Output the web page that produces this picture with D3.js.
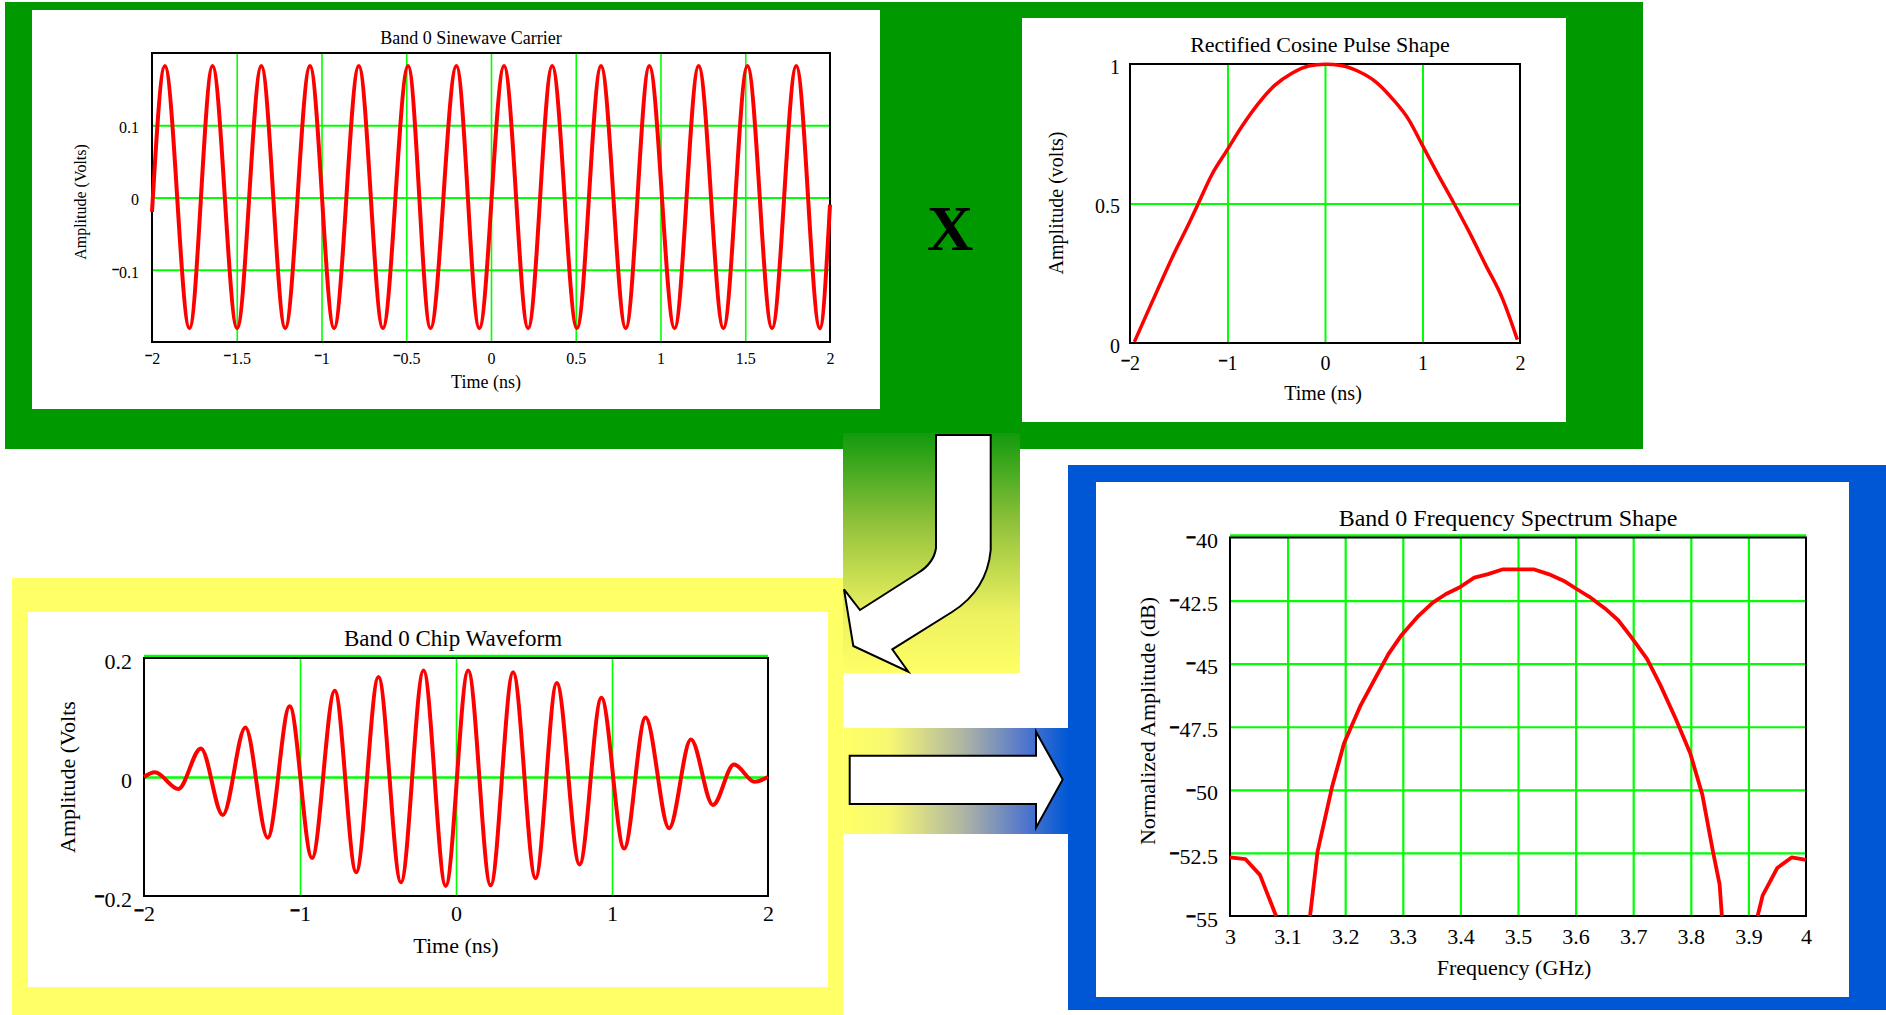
<!DOCTYPE html>
<html>
<head>
<meta charset="utf-8">
<script src="https://cdn.jsdelivr.net/npm/d3@7"></script>
<style>
  body { margin: 0; background: #fff; }
  svg text { font-family: "Liberation Serif", "Times New Roman", serif; fill: #000; }
</style>
</head>
<body>
<svg id="chart" width="1886" height="1015"></svg>
<script>
// ---- values ----
// Band 0 sinewave carrier: extrema (ns, volts)
const carrierTimes = [-2, -1.924, -1.779, -1.643, -1.498, -1.355, -1.214, -1.068, -0.926, -0.780, -0.638,
  -0.489, -0.357, -0.204, -0.069, 0.077, 0.219, 0.361, 0.507, 0.649, 0.795, 0.934, 1.083, 1.225, 1.371,
  1.513, 1.658, 1.801, 1.940, 2];
const carrierVolts = [-0.02, 0.182, -0.181, 0.182, -0.181, 0.182, -0.181, 0.182, -0.181, 0.182, -0.181,
  0.182, -0.181, 0.182, -0.181, 0.182, -0.181, 0.182, -0.181, 0.182, -0.181, 0.182, -0.181, 0.182, -0.181,
  0.182, -0.181, 0.182, -0.181, -0.01];

// Rectified cosine pulse
const pulseTimes = [-1.955, -1.846, -1.709, -1.538, -1.418, -1.298, -1.161, -1.014, -0.853, -0.682, -0.510,
  -0.339, -0.168, 0.003, 0.175, 0.346, 0.517, 0.688, 0.860, 0.997, 1.151, 1.322, 1.476, 1.647, 1.818, 1.973];
const pulseVolts = [0.004, 0.09, 0.197, 0.328, 0.412, 0.501, 0.603, 0.686, 0.776, 0.859, 0.925,
  0.967, 0.993, 0.999, 0.994, 0.973, 0.937, 0.877, 0.800, 0.710, 0.609, 0.501, 0.400, 0.280, 0.161, 0.012];

// Band 0 chip waveform (carrier x pulse), extrema
const chipTimes = [-2, -1.93, -1.78, -1.635, -1.495, -1.35, -1.207, -1.066, -0.923, -0.777, -0.64, -0.497,
  -0.353, -0.208, -0.066, 0.078, 0.222, 0.366, 0.51, 0.646, 0.792, 0.932, 1.078, 1.215, 1.366, 1.506, 1.647,
  1.782, 1.915, 2];
const chipVolts = [0, 0.008, -0.02, 0.048, -0.064, 0.083, -0.102, 0.119, -0.136, 0.145, -0.160, 0.168,
  -0.177, 0.179, -0.183, 0.179, -0.182, 0.176, -0.170, 0.158, -0.147, 0.133, -0.120, 0.100, -0.086, 0.063,
  -0.047, 0.021, -0.008, 0];

// Band 0 frequency spectrum (null = curve below the plot floor)
const spectrumGHz = [3.0, 3.027, 3.052, 3.08, null,
  3.139, 3.152, 3.177, 3.198, 3.227, 3.252, 3.275, 3.298, 3.325, 3.352, 3.375, 3.399, 3.424, 3.448, 3.474,
  3.527, 3.553, 3.579, 3.606, 3.624, 3.651, 3.674, 3.697, 3.724, 3.747, 3.774, 3.799, 3.82, 3.838, 3.85, 3.854, null,
  3.916, 3.925, 3.95, 3.975, 4.0];
const spectrumDb = [-52.68, -52.75, -53.37, -55, null,
  -55, -52.45, -49.9, -48.15, -46.64, -45.58, -44.62, -43.86, -43.16, -42.58, -42.24, -41.97, -41.59, -41.45, -41.26,
  -41.26, -41.45, -41.71, -42.1, -42.35, -42.81, -43.28, -43.96, -44.81, -45.84, -47.19, -48.55, -50.19, -52.39, -53.75, -55, null,
  -55, -54.17, -53.1, -52.68, -52.78];

// ticks and grid
const carrierXTicks = [-2, -1.5, -1, -0.5, 0, 0.5, 1, 1.5, 2];
const carrierYTicks = [-0.1, 0, 0.1];
const carrierXGrid = [-1.5, -1, -0.5, 0, 0.5, 1, 1.5];
const carrierYGrid = [-0.1, 0, 0.1];
const pulseXTicks = [-2, -1, 0, 1, 2];
const pulseYTicks = [0, 0.5, 1];
const pulseXGrid = [-1, 0, 1];
const pulseYGrid = [0.5];
const chipXTicks = [-2, -1, 0, 1, 2];
const chipYTicks = [-0.2, 0, 0.2];
const chipXGrid = [-1, 0, 1];
const chipYGrid = [0];
const specXTicks = [3, 3.1, 3.2, 3.3, 3.4, 3.5, 3.6, 3.7, 3.8, 3.9, 4];
const specYTicks = [-55, -52.5, -50, -47.5, -45, -42.5, -40];
const specXGrid = [3.1, 3.2, 3.3, 3.4, 3.5, 3.6, 3.7, 3.8, 3.9];
const specYGrid = [-52.5, -50, -47.5, -45, -42.5];

const GRID = "#00ff00", RED = "#ff0000";

const svg = d3.select("#chart");
const defs = svg.append("defs");

const vGrad = defs.append("linearGradient").attr("id", "downGrad")
  .attr("x1", 0).attr("y1", 0).attr("x2", 0).attr("y2", 1);
[[0, "#129a0e"], [0.4, "#98c43e"], [0.75, "#ecf160"], [1, "#ffff66"]].forEach(([o, c]) =>
  vGrad.append("stop").attr("offset", o).attr("stop-color", c));

const hGrad = defs.append("linearGradient").attr("id", "rightGrad")
  .attr("x1", 0).attr("y1", 0).attr("x2", 1).attr("y2", 0);
[[0, "#ffff66"], [0.2, "#f8f872"], [0.55, "#a9b1a6"], [0.8, "#5578cb"], [1, "#0057d6"]].forEach(([o, c]) =>
  hGrad.append("stop").attr("offset", o).attr("stop-color", c));

// coloured backgrounds
svg.append("rect").attr("x", 5).attr("y", 2).attr("width", 1638).attr("height", 447).attr("fill", "#009900");
svg.append("rect").attr("x", 12).attr("y", 578).attr("width", 831).attr("height", 437).attr("fill", "#ffff66");
svg.append("rect").attr("x", 1068).attr("y", 465).attr("width", 818).attr("height", 545).attr("fill", "#0057d6");
svg.append("rect").attr("x", 843).attr("y", 433).attr("width", 177).attr("height", 240).attr("fill", "url(#downGrad)");
svg.append("rect").attr("x", 844).attr("y", 728).attr("width", 224).attr("height", 106).attr("fill", "url(#rightGrad)");

// arrows
svg.append("path")
  .attr("d", "M936,435 L990.7,435 L990.7,550 Q987,590 952,612 L892.3,649.3 L908.3,671.7 L853.3,646 " +
    "L844,589.3 L860,610 L918,573 Q934,563 936,548 Z")
  .attr("fill", "#fff").attr("stroke", "#000").attr("stroke-width", 2).attr("stroke-linejoin", "miter");
svg.append("path")
  .attr("d", "M849.7,755.7 L1036,755.7 L1036,731.7 L1062.7,779.5 L1036,827.7 L1036,804 L849.7,804 Z")
  .attr("fill", "#fff").attr("stroke", "#000").attr("stroke-width", 2);

svg.append("text").attr("x", 950).attr("y", 250).attr("text-anchor", "middle")
  .attr("font-size", 64).attr("font-weight", "bold").text("X");

// write a tick value the way the original plots do: small, raised, heavy minus
function tickLabel(sel, fs) {
  sel.each(function(v) {
    const t = d3.select(this).text(null);
    if (v < 0) {
      t.append("tspan").attr("font-weight", "bold").attr("font-size", fs * 0.8)
        .attr("stroke", "#000").attr("stroke-width", fs * 0.04)
        .attr("dy", -0.22 * fs).text("\u2212");
      t.append("tspan").attr("dy", 0.22 * fs).text(String(-v));
    } else {
      t.text(String(v));
    }
  });
}

function drawChart(c) {
  svg.append("rect").attr("x", c.box[0]).attr("y", c.box[1])
    .attr("width", c.box[2]).attr("height", c.box[3]).attr("fill", "#fff");

  const [px, py, pw, ph] = c.plot;
  const x = d3.scaleLinear().domain(c.xDomain).range([px, px + pw]);
  const y = d3.scaleLinear().domain(c.yDomain).range([py + ph, py]);
  const g = svg.append("g");

  // grid
  const gx = g.append("g").attr("transform", `translate(0,${py + ph})`)
    .call(d3.axisBottom(x).tickValues(c.xGrid).tickSize(-ph).tickFormat(""));
  gx.selectAll(".tick line").attr("stroke", GRID).attr("stroke-width", c.gridVW);
  const gy = g.append("g").attr("transform", `translate(${px},0)`)
    .call(d3.axisLeft(y).tickValues(c.yGrid).tickSize(-pw).tickFormat(""));
  gy.selectAll(".tick line").attr("stroke", GRID).attr("stroke-width", c.gridHW);
  g.selectAll(".domain").remove();
  if (c.topLine) {
    g.append("line").attr("x1", px).attr("x2", px + pw)
      .attr("y1", py - 2).attr("y2", py - 2).attr("stroke", GRID).attr("stroke-width", 2.5);
  }

  // frame
  g.append("rect").attr("x", px).attr("y", py).attr("width", pw).attr("height", ph)
    .attr("fill", "none").attr("stroke", "#000").attr("stroke-width", 2);

  // curve
  const pts = c.xs.map((v, i) => [v, c.ys[i]]);
  const line = d3.line()
    .defined(d => d[0] !== null && d[1] !== null)
    .x(d => x(d[0])).y(d => y(d[1]))
    .curve(c.curve);
  g.append("path").datum(pts).attr("d", line)
    .attr("fill", "none").attr("stroke", RED).attr("stroke-width", c.lineW)
    .attr("stroke-linejoin", "round");

  // tick labels
  const fs = c.tickSize;
  const ax = g.append("g").attr("transform", `translate(0,${py + ph})`)
    .call(d3.axisBottom(x).tickValues(c.xTicks).tickSize(0));
  ax.select(".domain").remove();
  ax.selectAll("text").attr("y", c.xLabelY - (py + ph)).attr("dy", null)
    .attr("font-size", fs).attr("fill", "#000").call(tickLabel, fs);
  const ay = g.append("g").attr("transform", `translate(${px},0)`)
    .call(d3.axisLeft(y).tickValues(c.yTicks).tickSize(0));
  ay.select(".domain").remove();
  ay.selectAll("text").attr("x", c.yLabelX - px).attr("y", 0.46 * fs).attr("dy", null)
    .attr("font-size", fs).attr("fill", "#000").call(tickLabel, fs);
  g.selectAll("g").attr("font-family", null).attr("font-size", null);

  // titles
  g.append("text").attr("x", c.title[1]).attr("y", c.title[2]).attr("text-anchor", "middle")
    .attr("font-size", c.title[3]).text(c.title[0]);
  g.append("text").attr("x", c.xTitle[1]).attr("y", c.xTitle[2]).attr("text-anchor", "middle")
    .attr("font-size", c.xTitle[3]).text(c.xTitle[0]);
  g.append("text").attr("transform", `translate(${c.yTitle[1]},${c.yTitle[2]}) rotate(-90)`)
    .attr("text-anchor", "middle").attr("font-size", c.yTitle[3]).text(c.yTitle[0]);
}

drawChart({
  box: [32, 10, 848, 399], plot: [152, 53, 678, 289],
  xDomain: [-2, 2], yDomain: [-0.2, 0.2],
  xs: carrierTimes, ys: carrierVolts, curve: d3.curveMonotoneX, lineW: 4,
  xTicks: carrierXTicks, yTicks: carrierYTicks, xGrid: carrierXGrid, yGrid: carrierYGrid,
  gridVW: 1.6, gridHW: 2.2, tickSize: 16, xLabelY: 364, yLabelX: 139,
  title: ["Band 0 Sinewave Carrier", 471, 44, 18],
  xTitle: ["Time (ns)", 486, 388, 18],
  yTitle: ["Amplitude (Volts)", 86, 202, 16]
});

drawChart({
  box: [1022, 18, 544, 404], plot: [1130, 64, 390, 279],
  xDomain: [-2, 2], yDomain: [0, 1],
  xs: pulseTimes, ys: pulseVolts, curve: d3.curveMonotoneX, lineW: 3.5,
  xTicks: pulseXTicks, yTicks: pulseYTicks, xGrid: pulseXGrid, yGrid: pulseYGrid,
  gridVW: 2, gridHW: 2, tickSize: 20, xLabelY: 370, yLabelX: 1120,
  title: ["Rectified Cosine Pulse Shape", 1320, 52, 22],
  xTitle: ["Time (ns)", 1323, 400, 20],
  yTitle: ["Amplitude (volts)", 1063, 203, 20]
});

drawChart({
  box: [28, 612, 800, 375], plot: [144, 658, 624, 238],
  xDomain: [-2, 2], yDomain: [-0.2, 0.2],
  xs: chipTimes, ys: chipVolts, curve: d3.curveMonotoneX, lineW: 4, topLine: true,
  xTicks: chipXTicks, yTicks: chipYTicks, xGrid: chipXGrid, yGrid: chipYGrid,
  gridVW: 1.6, gridHW: 2.6, tickSize: 22, xLabelY: 921, yLabelX: 132,
  title: ["Band 0 Chip Waveform", 453, 646, 23],
  xTitle: ["Time (ns)", 456, 953, 22],
  yTitle: ["Amplitude (Volts", 75, 777, 22]
});

drawChart({
  box: [1096, 482, 753, 515], plot: [1230, 537.5, 576, 378.5],
  xDomain: [3, 4], yDomain: [-55, -40],
  xs: spectrumGHz, ys: spectrumDb, curve: d3.curveLinear, lineW: 3.8, topLine: true,
  xTicks: specXTicks, yTicks: specYTicks, xGrid: specXGrid, yGrid: specYGrid,
  gridVW: 2.2, gridHW: 2.2, tickSize: 22, xLabelY: 944, yLabelX: 1218,
  title: ["Band 0 Frequency Spectrum Shape", 1508, 526, 24],
  xTitle: ["Frequency (GHz)", 1514, 975, 22],
  yTitle: ["Normalized Amplitude (dB)", 1155, 721, 22]
});
</script>
</body>
</html>
